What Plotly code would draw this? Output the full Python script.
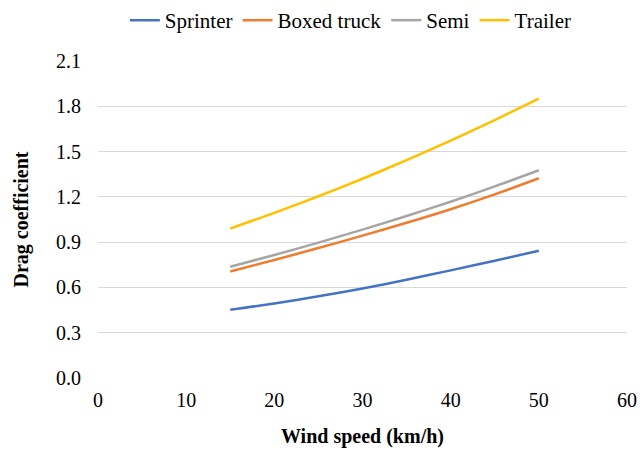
import plotly.graph_objects as go

# Wind speed samples (km/h)
wind_speed = [15, 20, 25, 30, 35, 40, 45, 50]

# Drag coefficient per vehicle type
sprinter = [0.452, 0.494, 0.541, 0.593, 0.651, 0.713, 0.777, 0.843]
boxed_truck = [0.706, 0.782, 0.861, 0.943, 1.028, 1.118, 1.216, 1.323]
semi = [0.737, 0.815, 0.897, 0.983, 1.073, 1.168, 1.269, 1.376]
trailer = [0.990, 1.094, 1.204, 1.320, 1.443, 1.573, 1.709, 1.850]

series_names = ["Sprinter", "Boxed truck", "Semi", "Trailer"]
series_values = [sprinter, boxed_truck, semi, trailer]
series_colors = ["#4472C4", "#ED7D31", "#A5A5A5", "#FFC000"]

x_ticks = [0, 10, 20, 30, 40, 50, 60]
y_ticks = [0.0, 0.3, 0.6, 0.9, 1.2, 1.5, 1.8, 2.1]

FONT = "Liberation Serif"

fig = go.Figure()
for name, vals, color in zip(series_names, series_values, series_colors):
    fig.add_trace(go.Scatter(
        x=wind_speed, y=vals, name=name, mode="lines",
        line=dict(color=color, width=2.5, shape="spline", smoothing=0.8),
    ))

fig.update_layout(
    width=640, height=450,
    margin=dict(l=98, r=13, t=61, b=72, autoexpand=False),
    paper_bgcolor="white", plot_bgcolor="white",
    font=dict(family=FONT, size=19, color="#000000"),
    showlegend=True,
    legend=dict(
        orientation="h", x=0.478, xanchor="center", y=1.0, yanchor="top",
        yref="container",
        font=dict(family=FONT, size=21, color="#000000"),
        itemwidth=30, tracegroupgap=0, bgcolor="rgba(0,0,0,0)",
    ),
    xaxis=dict(
        range=[0, 60], tickvals=x_ticks, ticktext=[str(v) for v in x_ticks],
        showgrid=False, zeroline=False, showline=False, ticks="",
        automargin=False, ticklabelstandoff=8,
        tickfont=dict(family=FONT, size=20, color="#000000"),
        title=dict(text="<b>Wind speed (km/h)</b>", standoff=18,
                   font=dict(family=FONT, size=20, color="#000000")),
    ),
    yaxis=dict(
        range=[0, 2.1], tickvals=y_ticks, tickformat=".1f",
        showgrid=True, gridcolor="#D9D9D9", gridwidth=1.2,
        zeroline=False, showline=False, ticks="",
        automargin=False, ticklabelstandoff=16,
        tickfont=dict(family=FONT, size=20, color="#000000"),
        title=dict(text="<b>Drag coefficient</b>", standoff=22,
                   font=dict(family=FONT, size=20, color="#000000")),
    ),
)

fig.write_html("out.html")
